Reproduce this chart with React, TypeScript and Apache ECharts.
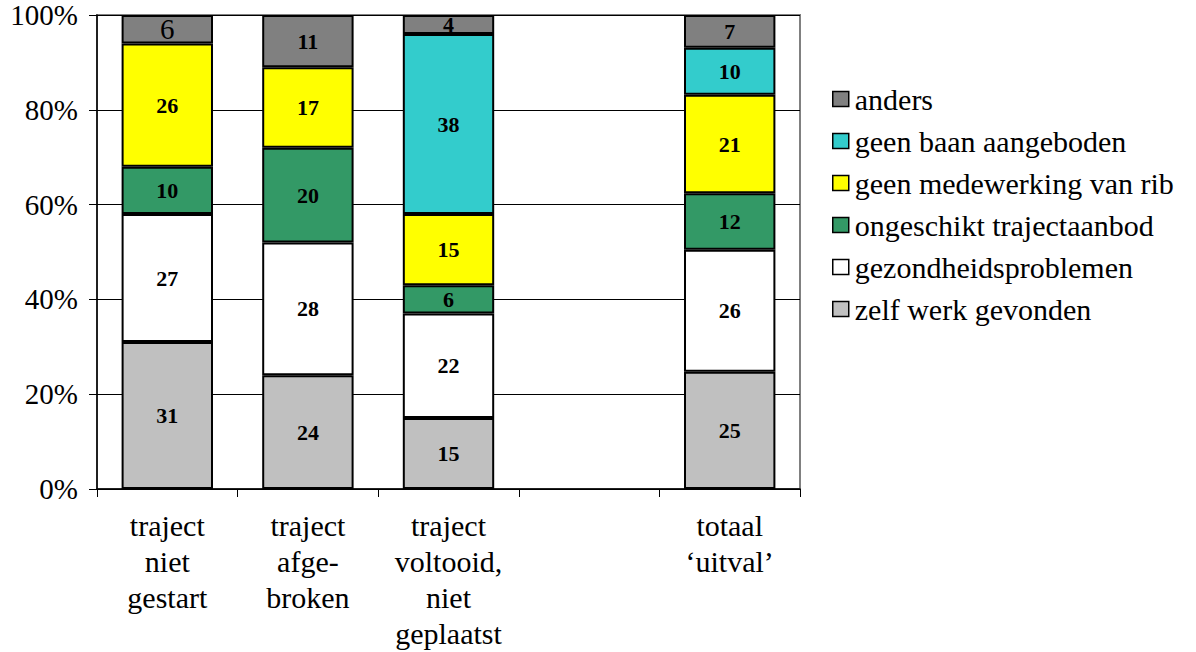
import React, { useEffect, useRef } from "react";
import * as echarts from "echarts";

const categories = [
  "traject\nniet\ngestart",
  "traject\nafge-\nbroken",
  "traject\nvoltooid,\nniet\ngeplaatst",
  "",
  "totaal\n‘uitval’",
];
const yTicks = [0, 20, 40, 60, 80, 100];

const zelfWerk = [31, 24, 15, null, 25];
const gezondheid = [27, 28, 22, null, 26];
const ongeschikt = [10, 20, 6, null, 12];
const medewerking = [26, 17, 15, null, 21];
const geenBaan = [null, null, 38, null, 10];
const anders = [6, 11, 4, null, 7];

const seriesDefs = [
  { name: "zelf werk gevonden", data: zelfWerk, color: "#C0C0C0" },
  { name: "gezondheidsproblemen", data: gezondheid, color: "#FFFFFF" },
  { name: "ongeschikt trajectaanbod", data: ongeschikt, color: "#339966" },
  { name: "geen medewerking van rib", data: medewerking, color: "#FFFF00" },
  { name: "geen baan aangeboden", data: geenBaan, color: "#33CCCC" },
  { name: "anders", data: anders, color: "#808080" },
];

const FONT = "Liberation Serif";

export default function App() {
  const ref = useRef<HTMLDivElement>(null);
  useEffect(() => {
    if (!ref.current) return;
    const chart = echarts.init(ref.current, null, { renderer: "svg" });
    const totals = categories.map((_, i) =>
      seriesDefs.reduce((s, d) => s + (d.data[i] ?? 0), 0)
    );
    const series = seriesDefs.map((d) => ({
      name: d.name,
      type: "bar",
      stack: "total",
      barWidth: "65%",
      itemStyle: { color: d.color, borderColor: "#000", borderWidth: 2 },
      data: d.data.map((v, i) =>
        v == null
          ? null
          : {
              value: (v / totals[i]) * 100,
              raw: v,
              label:
                d.name === "anders" && i === 0
                  ? { fontWeight: "normal", fontSize: 29 }
                  : undefined,
            }
      ),
      label: {
        show: true,
        position: "inside",
        color: "#000",
        fontFamily: FONT,
        fontWeight: "bold",
        fontSize: 22,
        formatter: (p: any) => (p.data && p.data.raw != null ? String(p.data.raw) : ""),
      },
    }));
    chart.setOption({
      animation: false,
      backgroundColor: "#fff",
      textStyle: { fontFamily: FONT },
      grid: {
        left: 97,
        right: 396,
        top: 15,
        bottom: 163,
        containLabel: false,
        outerBoundsMode: "none",
        show: true,
        borderColor: "#808080",
        borderWidth: 2,
        backgroundColor: "transparent",
      },
      legend: {
        orient: "vertical",
        left: 827,
        top: 78,
        itemWidth: 16,
        itemHeight: 15,
        itemGap: 10,
        icon: "rect",
        itemStyle: { borderColor: "#000", borderWidth: 1.5 },
        textStyle: {
          fontFamily: FONT,
          fontSize: 30,
          color: "#000",
          lineHeight: 32,
          padding: [0, 0, 0, 1],
        },
        data: seriesDefs.map((d) => d.name).reverse(),
      },
      xAxis: {
        type: "category",
        data: categories,
        axisLine: { show: true, lineStyle: { color: "#000", width: 1.5 } },
        axisTick: { show: true, length: 8, alignWithLabel: false, lineStyle: { color: "#000" } },
        axisLabel: {
          interval: 0,
          fontFamily: FONT,
          fontSize: 30,
          lineHeight: 36,
          color: "#000",
          margin: 18,
        },
      },
      yAxis: {
        type: "value",
        min: 0,
        max: 100,
        interval: 20,
        axisLine: { show: true, lineStyle: { color: "#000", width: 1.5 } },
        axisTick: { show: true, length: 8, lineStyle: { color: "#000" } },
        axisLabel: {
          fontFamily: FONT,
          fontSize: 29,
          color: "#000",
          margin: 19,
          formatter: (v: number) => (yTicks.includes(v) ? v + "%" : ""),
        },
        splitLine: { show: true, lineStyle: { color: "#000", width: 1 } },
      },
      series,
    });
    return () => chart.dispose();
  }, []);
  return (
    <div
      ref={ref}
      style={{ position: "fixed", left: 0, top: 0, width: 1196, height: 652 }}
    />
  );
}
